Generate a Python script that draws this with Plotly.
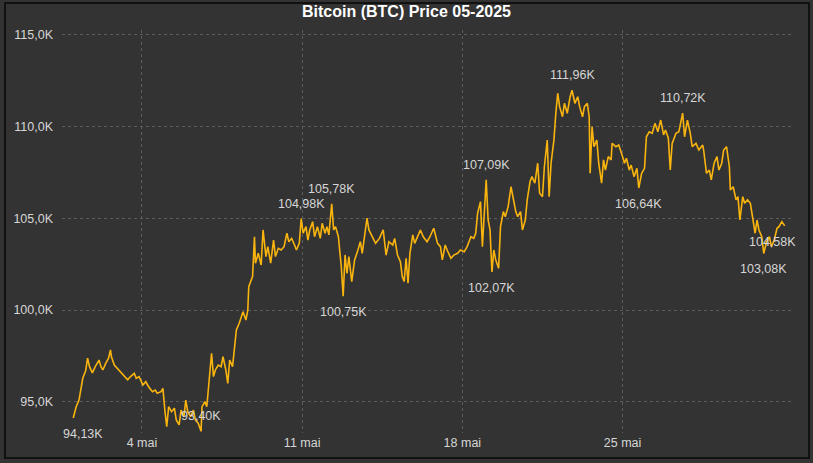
import pandas as pd
import plotly.graph_objects as go

# ---- data (hours since 2025-05-01 00:00, price in thousand USD) ----
hours = [0, 3, 6, 10, 13, 15, 17, 20, 23, 25, 27, 29, 31, 34, 37, 39, 40, 43, 46, 50,
         53, 57, 60, 64, 66, 69, 73, 76, 79, 83, 86, 88, 92, 94, 96, 98, 100, 103, 106, 108,
         111, 113, 116, 118, 120, 123, 126, 128, 131, 134, 135, 138, 140, 142, 145, 147, 149, 152, 155, 157,
         160, 162, 164, 167, 169, 171, 174, 176, 178, 181, 183, 184, 186, 188, 190, 191, 194, 197, 199, 202,
         204, 207, 210, 212, 215, 218, 221, 224, 226, 229, 232, 234, 237, 239, 241, 244, 246, 248, 251, 253,
         256, 259, 261, 264, 266, 268, 271, 273, 275, 278, 280, 281, 283, 285, 287, 289, 292, 295, 298, 301,
         303, 306, 308, 310, 314, 317, 321, 325, 328, 331, 335, 337, 340, 343, 345, 347, 349, 351, 353, 356,
         358, 361, 364, 367, 371, 374, 378, 382, 385, 387, 390, 392, 396, 399, 403, 406, 410, 413, 417, 420,
         422, 424, 427, 429, 431, 433, 435, 437, 439, 441, 443, 446, 448, 451, 453, 456, 459, 462, 464, 466,
         469, 471, 474, 476, 479, 481, 484, 487, 489, 492, 494, 497, 499, 501, 504, 506, 508, 510, 513, 515,
         518, 521, 523, 526, 529, 531, 534, 536, 539, 541, 542, 544, 546, 549, 551, 554, 556, 558, 561, 564,
         565, 569, 572, 576, 578, 580, 583, 585, 588, 591, 593, 596, 599, 601, 604, 607, 610, 613, 616, 619,
         621, 624, 626, 628, 632, 635, 639, 641, 644, 647, 649, 653, 656, 660, 661, 664, 667, 669, 672, 675,
         677, 680, 682, 685, 688, 689, 692, 695, 697, 699, 702, 704, 707, 710, 712, 715, 717, 719, 722, 724,
         727, 730, 732, 735, 738, 740, 743, 745, 746]

prices_k = [94.13, 94.74, 95.10, 96.30, 96.70, 97.38, 96.92, 96.58, 96.92, 97.10, 97.28, 96.92, 96.74, 97.10, 97.38, 97.83, 97.46, 97.01, 96.83, 96.65,
            96.47, 96.20, 96.38, 96.56, 96.29, 96.38, 95.92, 96.10, 95.83, 95.56, 95.65, 95.47, 95.56, 95.74, 94.56, 93.66, 94.74, 94.47, 94.66, 94.02,
            93.75, 94.56, 94.20, 95.10, 94.47, 94.20, 94.56, 94.02, 93.84, 93.40, 94.74, 95.02, 94.74, 96.01, 97.65, 96.38, 96.74, 97.01, 96.92, 97.46,
            96.74, 96.01, 97.28, 96.92, 98.00, 98.92, 99.28, 99.64, 99.91, 99.46, 100.00, 101.27, 101.55, 101.82, 103.99, 102.55, 103.09, 102.45, 104.36, 102.91,
            103.45, 102.55, 103.81, 102.91, 103.36, 103.27, 103.45, 104.18, 103.72, 103.90, 103.54, 103.27, 103.63, 104.98, 104.18, 104.54, 103.81, 104.36, 104.81, 103.99,
            104.54, 103.90, 104.72, 104.18, 104.54, 104.09, 105.78, 104.36, 104.54, 103.99, 102.91, 102.40, 100.75, 103.00, 102.00, 102.91, 101.55, 102.73, 103.18, 103.72,
            103.09, 104.36, 105.00, 104.36, 103.99, 103.63, 103.90, 104.36, 102.99, 103.72, 103.54, 103.90, 102.99, 102.63, 101.82, 101.55, 102.82, 101.46, 103.09, 104.09,
            103.63, 103.99, 104.36, 103.99, 103.72, 103.99, 104.45, 103.63, 103.45, 102.73, 103.54, 103.27, 102.82, 102.99, 103.09, 103.27, 103.18, 103.45, 103.99, 103.90,
            104.18, 105.27, 105.90, 103.45, 105.08, 107.09, 104.90, 104.36, 102.07, 103.27, 102.73, 102.27, 104.54, 105.36, 105.08, 105.63, 106.71, 106.00, 105.36, 105.08,
            105.36, 104.36, 104.90, 106.00, 107.00, 107.26, 106.90, 107.99, 106.36, 106.17, 107.80, 109.25, 106.17, 107.99, 109.25, 110.70, 111.80, 111.07, 110.52, 111.25,
            110.71, 111.61, 111.96, 111.25, 111.61, 111.07, 110.52, 111.07, 111.25, 110.52, 107.44, 109.98, 108.89, 109.25, 107.99, 106.90, 108.17, 107.62, 108.35, 108.17,
            109.07, 108.89, 108.98, 108.35, 107.99, 108.26, 107.62, 107.89, 107.26, 107.71, 106.64, 107.44, 107.71, 109.43, 109.70, 109.62, 110.16, 109.70, 110.34, 109.53,
            109.80, 109.35, 107.62, 109.07, 109.62, 109.70, 110.72, 109.43, 110.34, 109.62, 108.89, 109.07, 108.71, 108.98, 108.71, 107.44, 107.62, 107.08, 107.99, 108.35,
            107.62, 107.99, 108.71, 108.89, 107.80, 106.53, 106.71, 106.00, 106.17, 104.90, 106.17, 105.81, 106.00, 105.81, 105.08, 104.18, 104.90, 104.36, 103.99, 103.08,
            103.72, 103.99, 103.45, 103.81, 104.45, 104.54, 104.81, 104.63, 104.58]

# labelled points: (hour, placement)
label_hours = [0, 134, 239, 271, 283, 433, 439, 523, 593, 639, 724, 746]
label_place = ["below", "above", "above", "above", "below", "above", "below",
               "above", "below", "above", "below", "below"]

y_tick_vals = [95, 100, 105, 110, 115]
y_tick_text = ["95,0K", "100,0K", "105,0K", "110,0K", "115,0K"]
x_tick_dates = ["2025-05-04", "2025-05-11", "2025-05-18", "2025-05-25"]
x_tick_text = ["4 mai", "11 mai", "18 mai", "25 mai"]

start = pd.Timestamp("2025-05-01 00:00")
times = [start + pd.Timedelta(hours=h) for h in hours]

BG = "#333333"
LINE = "#F9B40E"
TXT = "#d6d6d6"
GRID = "#5c5c5c"
FONT = "Liberation Sans, Arial, sans-serif"

fig = go.Figure()
fig.add_trace(go.Scatter(x=times, y=prices_k, mode="lines",
                         line=dict(color=LINE, width=1.6), hoverinfo="skip"))

for h, place in zip(label_hours, label_place):
    i = hours.index(h)
    v = prices_k[i]
    txt = f"{v:.2f}K".replace(".", ",")
    xshift = 0
    if i == 0:
        xshift = 10
    elif i == len(hours) - 1:
        xshift = -12
    fig.add_annotation(x=times[i], y=v, text=txt, showarrow=False,
                       yshift=(15 if place == "above" else -16), xshift=xshift,
                       font=dict(family=FONT, size=12.5, color=TXT))

fig.update_layout(
    width=813, height=463,
    margin=dict(l=62, r=21, t=30, b=30),
    paper_bgcolor=BG, plot_bgcolor=BG,
    showlegend=False,
    hovermode=False,
    title=dict(text="<b>Bitcoin (BTC) Price 05-2025</b>", x=0.5, xanchor="center",
               y=0.975, yanchor="middle",
               font=dict(family=FONT, size=16, color="#ffffff")),
    font=dict(family=FONT, color=TXT),
)

fig.update_xaxes(
    range=[pd.Timestamp("2025-04-30 12:10"), pd.Timestamp("2025-06-01 09:40")],
    tickvals=pd.to_datetime(x_tick_dates), ticktext=x_tick_text,
    showgrid=True, gridcolor=GRID, griddash="dot", gridwidth=1,
    zeroline=False, showline=False, ticks="",
    tickfont=dict(size=12.5, color=TXT),
)
fig.update_yaxes(
    range=[93.31, 115.24],
    tickvals=y_tick_vals, ticktext=y_tick_text,
    showgrid=True, gridcolor=GRID, griddash="dot", gridwidth=1,
    zeroline=False, showline=False, ticks="", ticklabelstandoff=8,
    tickfont=dict(size=12.5, color=TXT),
)

# outer frame
fig.add_shape(type="rect", xref="paper", yref="paper",
              x0=(5 - 62) / 730, x1=(809 - 62) / 730,
              y0=(433 - 458) / 403, y1=(433 - 3) / 403,
              line=dict(color="#111111", width=2), fillcolor="rgba(0,0,0,0)", layer="below")

fig.write_html(
    "out.html",
    config={"displayModeBar": False},
    post_script="document.body.style.margin='0';document.body.style.background='#333333';"
                "document.documentElement.style.overflow='hidden';",
)
